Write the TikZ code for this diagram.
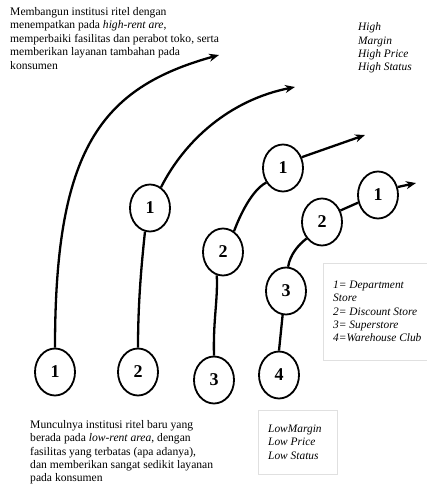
\documentclass[tikz,border=0pt]{standalone}
\usepackage{fontspec}
\setmainfont{Liberation Serif}
\usetikzlibrary{shapes.geometric,arrows.meta}
\begin{document}
\begin{tikzpicture}[x=1pt,y=-1pt,
  stage/.style={ellipse,draw,line width=1.8pt,minimum width=40pt,minimum height=47pt,inner sep=0pt,font=\fontsize{18}{18}\selectfont\bfseries},
  path/.style={line width=2.3pt},
  arr/.style={path,-{Stealth[length=10pt,width=8pt]}},
  body/.style={anchor=north west,inner sep=0pt,align=left,font=\fontsize{11.6}{13.4}\selectfont},
  note/.style={anchor=north west,inner sep=0pt,align=left,font=\fontsize{11.4}{13.4}\selectfont\itshape},
  faint/.style={draw=black!12,line width=0.6pt}
]
\useasboundingbox[fill=white] (0,0) rectangle (427,488);

% boxes
\draw[faint] (323,263) rectangle (432,360);
\draw[faint] (258,410) rectangle (337,474);

% stage nodes
\node[stage] (b1) at (55,372) {1};
\node[stage] (b2) at (138,372) {2};
\node[stage] (b3) at (214,380) {3};
\node[stage] (b4) at (279,375) {4};
\node[stage] (u21) at (150,208) {1};
\node[stage] (u32) at (223,252) {2};
\node[stage] (u31) at (283,168) {1};
\node[stage] (u43) at (286,291) {3};
\node[stage] (u42) at (322,222) {2};
\node[stage] (u41) at (378,195) {1};

% arrow end points
\coordinate (t1) at (219,55);
\coordinate (t2) at (295,87);
\coordinate (t3) at (365,135);
\coordinate (t4) at (416,183);

% line 1
\draw[arr] (b1.north) .. controls (55,150) and (100,88) .. (t1);
% line 2
\draw[path] (b2.north) .. controls (138,300) and (142,260) .. (u21.258);
\draw[arr] (u21.62) .. controls (185,140) and (230,100) .. (t2);
% line 3
\draw[path] (b3.north) .. controls (213,320) and (218,300) .. (u32.255);
\draw[path] (u32.62) .. controls (240,215) and (252,190) .. (u31.221);
\draw[arr] (u31.30) -- (t3);
% line 4
\draw[path] (b4.north) -- (u43.262);
\draw[path] (u43.85) .. controls (290,255) and (298,245) .. (u42.227);
\draw[path] (u42.32) -- (u41.201);
\draw[arr] (u41.22) -- (t4);

% texts
\node[body] (top) at (10,7.2) {Membangun institusi ritel dengan\\menempatkan pada \textit{high-rent are},\\memperbaiki fasilitas dan perabot toko, serta\\memberikan layanan tambahan pada\\konsumen};
\node[body] (bot) at (30,420.1) {Munculnya institusi ritel baru yang\\berada pada \textit{low-rent area}, dengan\\fasilitas yang terbatas (apa adanya),\\dan memberikan sangat sedikit layanan\\pada konsumen};
\node[note] (high) at (358,22.5) {High\\Margin\\High Price\\High Status};
\node[note] (legend) at (333,280.5) {1= Department\\Store\\2= Discount Store\\3= Superstore\\4=Warehouse Club};
\node[note] (low) at (268,424.5) {LowMargin\\Low Price\\Low Status};
\end{tikzpicture}
\end{document}
